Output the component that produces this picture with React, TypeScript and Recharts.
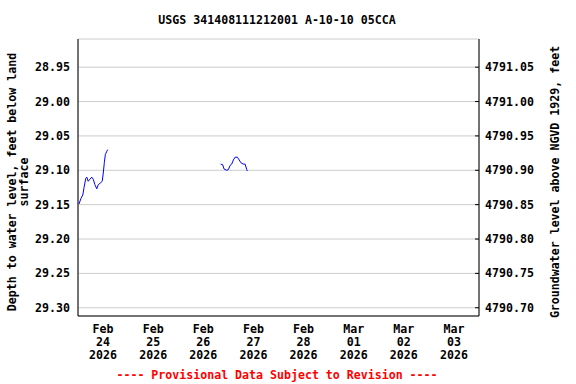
import React from "react";
import { LineChart, Line, XAxis, YAxis, CartesianGrid } from "recharts";

// Hours since 2026-02-24 00:00
const hours: (number)[] = [
  0.5, 1.4, 2.3, 2.9, 3.7, 4.2, 4.9, 5.7, 6.6, 7.3, 8.1, 9.0, 9.7, 10.9, 11.6, 12.1, 12.6, 13.1, 13.7, 14.2,
  40,
  68.3, 69.3, 69.9, 71.2, 72.0, 72.8, 73.6, 74.4, 75.2, 76.3, 77.2, 78.0, 79.1, 80.0, 80.8, 81.1,
];
const depths: (number | null)[] = [
  29.149, 29.141, 29.136, 29.125, 29.112, 29.110, 29.116, 29.113, 29.110, 29.113, 29.121, 29.127, 29.121, 29.118, 29.116, 29.104, 29.089, 29.077, 29.073, 29.070,
  null,
  29.091, 29.092, 29.098, 29.100, 29.099, 29.093, 29.091, 29.085, 29.081, 29.081, 29.085, 29.089, 29.091, 29.091, 29.099, 29.101,
];

const dayTicks = [12, 36, 60, 84, 108, 132, 156, 180];
const monthLabels = ["Feb", "Feb", "Feb", "Feb", "Feb", "Mar", "Mar", "Mar"];
const dayLabels = ["24", "25", "26", "27", "28", "01", "02", "03"];
const yearLabel = "2026";
const midnightTicks = [0, 24, 48, 72, 96, 120, 144, 168, 192];
const depthTicks = [28.95, 29.0, 29.05, 29.1, 29.15, 29.2, 29.25, 29.3];
const elevTicks = [4790.7, 4790.75, 4790.8, 4790.85, 4790.9, 4790.95, 4791.0, 4791.05];
const depthDomain = [28.909, 29.312];
const datum = 4820.0;

const data = hours.map((t, i) => ({ t, depth: depths[i] }));

const FONT = "'DejaVu Sans Mono', monospace";
const FS = 11.6;

const XTick = (props: any) => {
  const { x, y, payload } = props;
  const i = dayTicks.indexOf(payload.value);
  return (
    <text x={x} y={y} textAnchor="middle" fontFamily={FONT} fontWeight="bold" fontSize={FS} fill="#000">
      <tspan x={x} dy={17}>{monthLabels[i]}</tspan>
      <tspan x={x} dy={13}>{dayLabels[i]}</tspan>
      <tspan x={x} dy={13}>{yearLabel}</tspan>
    </text>
  );
};

const LeftTick = (props: any) => {
  const { x, y, payload } = props;
  return (
    <text x={x} y={y} dy={4} textAnchor="end" fontFamily={FONT} fontWeight="bold" fontSize={FS} fill="#000">
      {Number(payload.value).toFixed(2)}
    </text>
  );
};

const RightTick = (props: any) => {
  const { x, y, payload } = props;
  return (
    <g>
      <line x1={x - 10} x2={x - 6} y1={y} y2={y} stroke="#000" />
      <text x={x} y={y} dy={4} textAnchor="start" fontFamily={FONT} fontWeight="bold" fontSize={FS} fill="#000">
        {Number(payload.value).toFixed(2)}
      </text>
    </g>
  );
};

export default function App() {
  return (
    <div style={{ position: "absolute", left: 0, top: 0, width: 576, height: 384, background: "#fff" }}>
      <LineChart width={576} height={384} data={data} margin={{ top: 39, right: 17, bottom: 8, left: 8 }}>
        <CartesianGrid xAxisId="grid" yAxisId="left" stroke="#cccccc" strokeWidth={1} />
        <XAxis
          xAxisId="grid"
          dataKey="t"
          type="number"
          orientation="top"
          domain={[0, 192]}
          ticks={midnightTicks}
          height={0}
          tick={false}
          tickLine={false}
          axisLine={{ stroke: "#000" }}
        />
        <XAxis
          xAxisId="main"
          dataKey="t"
          type="number"
          domain={[0, 192]}
          ticks={dayTicks}
          height={60}
          tick={<XTick />}
          tickLine={false}
          tickSize={0}
          tickMargin={0}
          axisLine={{ stroke: "#000" }}
          interval={0}
        />
        <YAxis
          yAxisId="left"
          orientation="left"
          type="number"
          domain={depthDomain}
          reversed
          ticks={depthTicks}
          width={70}
          tick={<LeftTick />}
          tickLine={false}
          tickSize={0}
          tickMargin={8}
          axisLine={{ stroke: "#000" }}
          interval={0}
          allowDataOverflow
        />
        <YAxis
          yAxisId="right"
          orientation="right"
          type="number"
          domain={[datum - depthDomain[1], datum - depthDomain[0]]}
          ticks={elevTicks}
          width={80}
          tick={<RightTick />}
          tickLine={false}
          tickSize={0}
          tickMargin={6}
          axisLine={{ stroke: "#000" }}
          interval={0}
          allowDataOverflow
        />
        <Line
          xAxisId="main"
          yAxisId="left"
          dataKey="depth"
          type="linear"
          stroke="#0000ff"
          strokeWidth={1}
          dot={false}
          activeDot={false}
          connectNulls={false}
          isAnimationActive={false}
        />
      </LineChart>
      <svg width={576} height={384} style={{ position: "absolute", left: 0, top: 0, pointerEvents: "none" }}>
        <text x={277} y={24} textAnchor="middle" fontFamily={FONT} fontWeight="bold" fontSize={FS} fill="#000">
          USGS 341408111212001 A-10-10 05CCA
        </text>
        <text x={277} y={379} textAnchor="middle" fontFamily={FONT} fontWeight="bold" fontSize={FS} fill="#ff0000">
          ---- Provisional Data Subject to Revision ----
        </text>
        <text transform="translate(16,182) rotate(-90)" textAnchor="middle" fontFamily={FONT} fontWeight="bold" fontSize={FS} fill="#000">
          Depth to water level, feet below land
        </text>
        <text transform="translate(28,182) rotate(-90)" textAnchor="middle" fontFamily={FONT} fontWeight="bold" fontSize={FS} fill="#000">
          surface
        </text>
        <text transform="translate(559,182) rotate(-90)" textAnchor="middle" fontFamily={FONT} fontWeight="bold" fontSize={FS} fill="#000">
          Groundwater level above NGVD 1929, feet
        </text>
      </svg>
    </div>
  );
}
